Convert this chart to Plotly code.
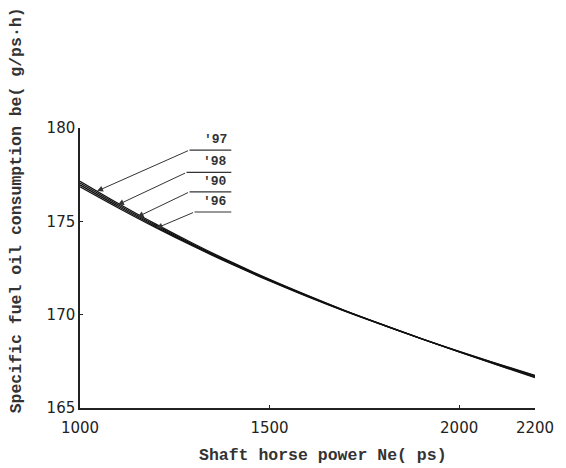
import numpy as np
import plotly.graph_objects as go

# Data
ne = [1000, 1100, 1200, 1300, 1400, 1500, 1600, 1700, 1800, 1900, 2000, 2100, 2200]
be_97 = [177.15, 175.97, 174.85, 173.80, 172.81, 171.89, 171.03, 170.21, 169.45, 168.72, 168.03, 167.38, 166.75]
be_98 = [177.05, 175.89, 174.78, 173.74, 172.77, 171.86, 171.01, 170.20, 169.45, 168.72, 168.02, 167.36, 166.72]
be_90 = [176.95, 175.81, 174.72, 173.70, 172.73, 171.84, 170.99, 170.19, 169.44, 168.71, 168.01, 167.33, 166.67]
be_96 = [176.85, 175.73, 174.66, 173.65, 172.70, 171.81, 170.97, 170.18, 169.44, 168.71, 168.00, 167.31, 166.63]

series_names = ["'97", "'98", "'90", "'96"]
series_vals = [be_97, be_98, be_90, be_96]

x_ticks = [1000, 1500, 2000, 2200]
y_ticks = [165, 170, 175, 180]

# label leader geometry (data coordinates)
tip_x = [1045, 1100, 1152, 1202]
elbow_x = [1289, 1281, 1289, 1302]
elbow_y = [178.82, 177.62, 176.58, 175.50]
label_end_x = 1399

fig = go.Figure()
for name, vals in zip(series_names, series_vals):
    fig.add_trace(go.Scatter(x=ne, y=vals, mode="lines", name=name,
                             line=dict(color="#111111", width=1.3, shape="spline"),
                             showlegend=False))

for name, vals, tx, ex, ey in zip(series_names, series_vals, tip_x, elbow_x, elbow_y):
    ty = float(np.interp(tx, ne, vals))
    fig.add_annotation(x=tx, y=ty, ax=ex, ay=ey, axref="x", ayref="y", xref="x", yref="y",
                       text="", showarrow=True, arrowhead=2, arrowsize=1.2, arrowwidth=1,
                       arrowcolor="#333333")
    fig.add_shape(type="line", x0=ex, x1=label_end_x, y0=ey, y1=ey, xref="x", yref="y",
                  line=dict(color="#333333", width=1.2))
    fig.add_annotation(x=label_end_x, y=ey, xref="x", yref="y", text="<b>" + name + "</b>",
                       showarrow=False, xanchor="right", yanchor="bottom", yshift=1, xshift=-2,
                       font=dict(family="Liberation Mono", size=13, color="#333333"))

fig.add_annotation(x=-0.14, y=0.707, xref="paper", yref="paper", textangle=-90,
                   xanchor="center", yanchor="middle",
                   text="<b>Specific fuel oil consumption be( g/ps·h)</b>", showarrow=False,
                   font=dict(family="Liberation Mono", size=16.5, color="#333333"))
fig.add_annotation(x=0.534, y=-0.168, xref="paper", yref="paper",
                   xanchor="center", yanchor="middle",
                   text="<b>Shaft horse power Ne( ps)</b>", showarrow=False,
                   font=dict(family="Liberation Mono", size=16.5, color="#333333"))

fig.update_xaxes(range=[1000, 2200], tickvals=x_ticks, ticktext=[str(v) for v in x_ticks],
                 showgrid=False, zeroline=False, showline=True, linecolor="#222222", linewidth=1.5,
                 ticks="inside", ticklen=3, tickcolor="#222222", ticklabelstandoff=5,
                 tickfont=dict(family="DejaVu Sans", size=15, color="#222222"))
fig.update_yaxes(range=[165, 180], tickvals=y_ticks, ticktext=[str(v) for v in y_ticks],
                 showgrid=False, zeroline=False, showline=True, linecolor="#222222", linewidth=1.5,
                 ticks="inside", ticklen=3, tickcolor="#222222",
                 tickfont=dict(family="DejaVu Sans", size=15, color="#222222"))

fig.update_layout(width=558, height=460, margin=dict(l=72, r=29, t=120, b=60),
                  plot_bgcolor="white", paper_bgcolor="white")

fig.write_html("out.html")
